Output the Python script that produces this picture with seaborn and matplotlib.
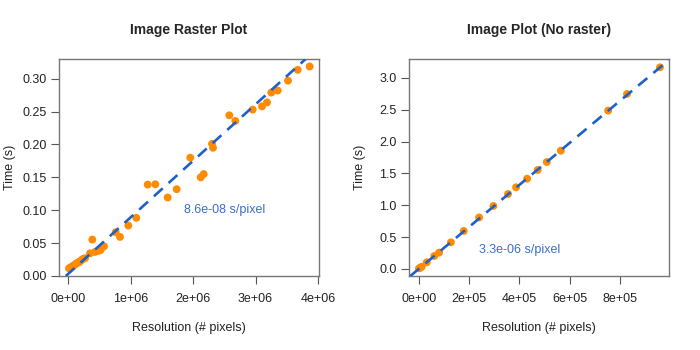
import matplotlib
matplotlib.use("Agg")
import matplotlib.pyplot as plt
import seaborn as sns
import pandas as pd
from matplotlib.ticker import FixedLocator, FixedFormatter

# ---------------- data ----------------
raster_res = [0.016e6, 0.03e6, 0.059e6, 0.08e6, 0.101e6, 0.12e6, 0.139e6, 0.15e6, 0.176e6,
              0.19e6, 0.219e6, 0.24e6, 0.272e6, 0.352e6, 0.389e6, 0.432e6, 0.485e6, 0.523e6,
              0.576e6, 0.763e6, 0.832e6, 0.965e6, 1.093e6, 1.275e6, 1.397e6, 1.595e6,
              1.739e6, 1.957e6, 2.123e6, 2.171e6, 2.304e6, 2.32e6, 2.581e6, 2.677e6,
              2.955e6, 3.104e6, 3.184e6, 3.253e6, 3.355e6, 3.52e6, 3.675e6, 3.867e6]
raster_time = [0.0117, 0.012, 0.0142, 0.015, 0.0167, 0.018, 0.0193, 0.020, 0.0213,
               0.022, 0.0244, 0.026, 0.027, 0.0345, 0.0554, 0.0365, 0.0381, 0.0396,
               0.045, 0.0666, 0.0594, 0.0767, 0.0884, 0.139, 0.1395, 0.1194,
               0.132, 0.180, 0.150, 0.155, 0.201, 0.195, 0.2444, 0.2358,
               0.253, 0.258, 0.264, 0.279, 0.282, 0.297, 0.3135, 0.3186]

image_res = [0.001e6, 0.006e6, 0.012e6, 0.032e6, 0.062e6, 0.081e6, 0.128e6, 0.179e6,
             0.24e6, 0.297e6, 0.355e6, 0.387e6, 0.431e6, 0.473e6, 0.509e6, 0.565e6,
             0.753e6, 0.828e6, 0.959e6]
image_time = [0.01, 0.02, 0.035, 0.105, 0.204, 0.257, 0.419, 0.597,
              0.81, 0.99, 1.178, 1.283, 1.418, 1.555, 1.68, 1.858,
              2.487, 2.749, 3.167]

raster_slope, raster_intercept = 8.6e-8, 0.003
image_slope, image_intercept = 3.3e-6, 0.0

titles = ["Image Raster Plot", "Image Plot (No raster)"]
annotations = ["8.6e-08 s/pixel", "3.3e-06 s/pixel"]
x_label = "Resolution (# pixels)"
y_label = "Time (s)"

raster_xticks = [0, 1e6, 2e6, 3e6, 4e6]
raster_xticklabels = ["0e+00", "1e+06", "2e+06", "3e+06", "4e+06"]
raster_yticks = [0.00, 0.05, 0.10, 0.15, 0.20, 0.25, 0.30]
raster_yticklabels = ["0.00", "0.05", "0.10", "0.15", "0.20", "0.25", "0.30"]
image_xticks = [0, 2e5, 4e5, 6e5, 8e5]
image_xticklabels = ["0e+00", "2e+05", "4e+05", "6e+05", "8e+05"]
image_yticks = [0.0, 0.5, 1.0, 1.5, 2.0, 2.5, 3.0]
image_yticklabels = ["0.0", "0.5", "1.0", "1.5", "2.0", "2.5", "3.0"]

# ---------------- style ----------------
sns.set_style("white")
plt.rcParams["font.family"] = ["Liberation Sans", "DejaVu Sans"]
plt.rcParams["font.size"] = 9

ORANGE = "#FF8C00"
BLUE_LINE = "#1E60C8"
BLUE_TEXT = "#3A6ECC"

fig = plt.figure(figsize=(7, 3.5), dpi=100)
W, H = 700, 350
AW, AH = 260, 217
ax1 = fig.add_axes([59 / W, (H - 276) / H, AW / W, AH / H])
ax2 = fig.add_axes([409 / W, (H - 276) / H, AW / W, AH / H])

panels = [
    (ax1, raster_res, raster_time, raster_slope, raster_intercept,
     (-0.144e6, 4.016e6), (0.0, 0.33), raster_xticks, raster_xticklabels,
     raster_yticks, raster_yticklabels, (2.51e6, 0.1006)),
    (ax2, image_res, image_time, image_slope, image_intercept,
     (-0.0386e6, 0.995e6), (-0.11, 3.298), image_xticks, image_xticklabels,
     image_yticks, image_yticklabels, (0.40e6, 0.298)),
]

for i, (ax, xs, ys, m, b, xl, yl, xt, xtl, yt, ytl, tpos) in enumerate(panels):
    df = pd.DataFrame({"res": xs, "time": ys})
    sns.scatterplot(data=df, x="res", y="time", ax=ax, color=ORANGE, s=32,
                    edgecolor="none", linewidth=0, zorder=2)
    ax.axline((0, b), slope=m, color=BLUE_LINE, lw=1.9, ls=(0, (4.5, 3)), zorder=3)
    ax.set_xlim(*xl)
    ax.set_ylim(*yl)
    ax.xaxis.set_major_locator(FixedLocator(xt))
    ax.xaxis.set_major_formatter(FixedFormatter(xtl))
    ax.yaxis.set_major_locator(FixedLocator(yt))
    ax.yaxis.set_major_formatter(FixedFormatter(ytl))
    ax.tick_params(axis="both", direction="out", length=6, width=0.8,
                   color="#555555", labelsize=9, labelcolor="#222222",
                   left=True, bottom=True, pad=3)
    ax.tick_params(axis="x", pad=6)
    for sp in ax.spines.values():
        sp.set_visible(True)
        sp.set_color("#777777")
        sp.set_linewidth(1.0)
    ax.set_xlabel(x_label, fontsize=9, color="#222222")
    ax.set_ylabel(y_label, fontsize=9, color="#222222")
    ax.xaxis.set_label_coords(0.5, -52 / AH)
    ax.yaxis.set_label_coords(-49 / AW, 0.5)
    ax.xaxis.label.set_va("center")
    ax.yaxis.label.set_va("center")
    ax.set_title(titles[i], fontsize=10, fontweight="bold", pad=18)
    ax.text(tpos[0], tpos[1], annotations[i], color=BLUE_TEXT, fontsize=9,
            ha="center", va="center")

fig.savefig("out.png", dpi=100)
